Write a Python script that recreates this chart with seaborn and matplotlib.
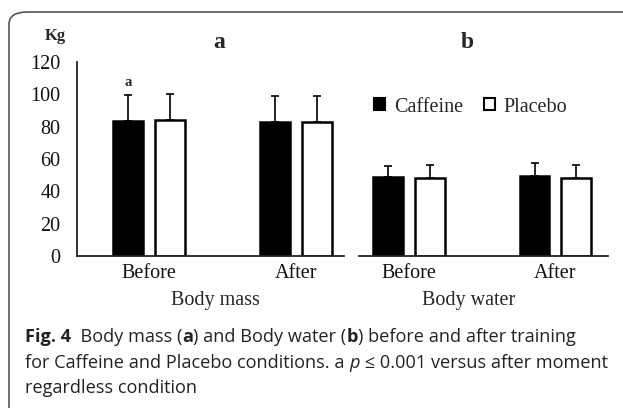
import matplotlib.pyplot as plt
import seaborn as sns
import pandas as pd
import numpy as np
from matplotlib.patches import FancyBboxPatch, Patch

# values (kg), mean and SD
moments = ['Before', 'After']
conditions = ['Caffeine', 'Placebo']
mass_mean = [83.5, 84.0, 83.0, 83.0]      # Caf-Before, Plac-Before, Caf-After, Plac-After
mass_sd = [15.8, 16.0, 15.8, 15.5]
water_mean = [48.7, 48.0, 49.4, 48.0]
water_sd = [6.9, 8.0, 8.1, 7.6]

sns.set_theme(style='white')
plt.rcParams['font.family'] = ['Liberation Serif', 'DejaVu Serif']

W, H = 623, 408
fig = plt.figure(figsize=(W / 100, H / 100), dpi=100)


def fx(px):
    return px / W


def fy(py):
    return 1 - py / H


# rounded frame (only the top-left corner is inside the picture)
fig.patches.append(FancyBboxPatch((fx(9), fy(470)), fx(700), fy(12) - fy(470),
                                  boxstyle='round,pad=0,rounding_size=0.03',
                                  transform=fig.transFigure, fill=False,
                                  edgecolor='#555555', lw=1.2, figure=fig))

ax_a = fig.add_axes([fx(77), fy(256), fx(344 - 77), fy(62) - fy(256)])
ax_b = fig.add_axes([fx(359), fy(256), fx(608 - 359), fy(62) - fy(256)])


def make_df(means, sds):
    rows = []
    i = 0
    for m in moments:
        for c in conditions:
            rows.append({'moment': m, 'cond': c, 'mean': means[i], 'sd': sds[i]})
            i += 1
    return pd.DataFrame(rows)


def draw(ax, means, sds, xlim):
    df = make_df(means, sds)
    sns.barplot(data=df, x='moment', y='mean', hue='cond', ax=ax,
                palette={'Caffeine': 'black', 'Placebo': 'white'},
                edgecolor='black', linewidth=1.8, width=0.567, gap=0.28,
                errorbar=None, legend=False)
    # one-sided error bars on top of each bar
    for p in ax.patches:
        xc = p.get_x() + p.get_width() / 2
        top = p.get_height()
        row = df[np.isclose(df['mean'], top)].iloc[0]
        ax.errorbar(xc, top, yerr=[[0], [row['sd']]], fmt='none',
                    ecolor='black', elinewidth=1.2, capsize=3, capthick=1.2)
    ax.set_ylim(0, 120)
    ax.set_xlim(*xlim)
    ax.set_xlabel('')
    ax.set_ylabel('')
    ax.tick_params(axis='x', labelsize=14.5, length=0, pad=6, colors='#111111')
    for s in ['top', 'right']:
        ax.spines[s].set_visible(False)
    ax.spines['bottom'].set_color('#222222')
    ax.spines['bottom'].set_linewidth(1.3)
    ax.patch.set_alpha(0)


draw(ax_a, mass_mean, mass_sd, (-0.49, 1.325))
draw(ax_b, water_mean, water_sd, (-0.34, 1.36))

ax_a.set_yticks(np.arange(0, 121, 20))
ax_a.tick_params(axis='y', labelsize=14.5, length=0, pad=12, colors='#111111')
ax_a.spines['left'].set_color('#222222')
ax_a.spines['left'].set_linewidth(1.3)
ax_b.spines['left'].set_visible(False)
ax_b.set_yticks([])

# significance mark
ax_a.text(-0.142, 103, 'a', ha='center', va='bottom', fontsize=10.5, fontweight='bold')

# panel letters, unit, x labels
fig.text(fx(219), fy(42), 'a', ha='center', va='center', fontsize=17, fontweight='bold')
fig.text(fx(467), fy(42), 'b', ha='center', va='center', fontsize=17, fontweight='bold')
fig.text(fx(55), fy(36), 'Kg', ha='center', va='center', fontsize=12, fontweight='bold')
fig.text(fx(215), fy(300), 'Body mass', ha='center', va='center', fontsize=14.5)
fig.text(fx(469), fy(300), 'Body water', ha='center', va='center', fontsize=14.5)

# legend
handles = [Patch(facecolor=c, edgecolor='black', linewidth=1.5) for c in ['black', 'white']]
fig.legend(handles, conditions, loc='center left', bbox_to_anchor=(fx(356), fy(107)),
           ncol=2, frameon=False, fontsize=14.5, handlelength=0.55, handleheight=0.55,
           handletextpad=0.45, columnspacing=1.0)

# caption, written piece by piece
cap = dict(fontsize=13.1, family=['Open Sans', 'DejaVu Sans'], color='#222222', va='center')
fig.canvas.draw()
r = fig.canvas.get_renderer()


def line(y, pieces, x0=25):
    x = fx(x0)
    for s, style in pieces:
        kw = dict(cap)
        if style == 'b':
            kw['fontweight'] = 'bold'
        elif style == 'i':
            kw['style'] = 'italic'
        t = fig.text(x, fy(y), s, **kw)
        x = t.get_window_extent(r).x1 / W


line(337, [('Fig. 4', 'b'), ('  Body mass (', ''), ('a', 'b'), (') and Body water (', ''),
           ('b', 'b'), (') before and after training', '')])
line(363, [('for Caffeine and Placebo conditions. a ', ''), ('p', 'i'),
           (' \u2264 0.001 versus after moment', '')])
line(388, [('regardless condition', '')])

fig.savefig('out.png', dpi=100)
